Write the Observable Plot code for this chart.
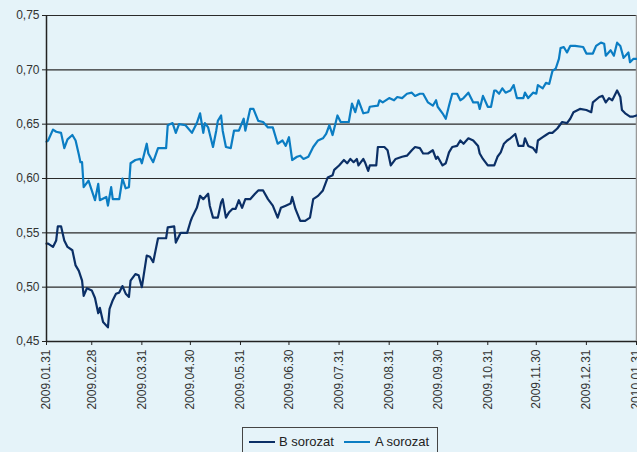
<!DOCTYPE html>
<html><head><meta charset="utf-8">
<script src="https://cdn.jsdelivr.net/npm/d3@7"></script>
<script src="https://cdn.jsdelivr.net/npm/@observablehq/plot@0.6"></script>
<style>
html,body{margin:0;padding:0;background:#e5f3f9;}
#wrap{position:relative;width:637px;height:452px;overflow:hidden;font-family:"Liberation Sans",Arial,sans-serif;background:#e5f3f9;}
#chart{position:absolute;left:0;top:0;}
#legend{position:absolute;left:242px;top:427px;width:196px;height:32px;border:1px solid #444;box-sizing:border-box;font-size:13px;color:#222;}
.sw{position:absolute;top:13px;height:2px;width:26px;}
.lt{position:absolute;top:6px;line-height:15px;}
</style>
</head><body>
<div id="wrap"><div id="chart"></div>
<div id="legend">
<div class="sw" style="left:6px;background:#0b2f66"></div><div class="lt" style="left:36px">B sorozat</div>
<div class="sw" style="left:101px;background:#0b7dc3"></div><div class="lt" style="left:132px">A sorozat</div>
</div></div>
<script>
const seriesNames = ["B sorozat", "A sorozat"];
const colorB = "#0b2f66";
const colorA = "#0b7dc3";

const aDates = ["2009-01-31","2009-02-01","2009-02-04","2009-02-06","2009-02-09","2009-02-11","2009-02-13","2009-02-16","2009-02-18","2009-02-20","2009-02-21","2009-02-22","2009-02-23","2009-02-26","2009-02-28","2009-03-02","2009-03-04","2009-03-05","2009-03-09","2009-03-10","2009-03-12","2009-03-13","2009-03-17","2009-03-19","2009-03-21","2009-03-23","2009-03-24","2009-03-27","2009-03-30","2009-03-31","2009-04-03","2009-04-04","2009-04-07","2009-04-10","2009-04-15","2009-04-16","2009-04-19","2009-04-21","2009-04-23","2009-04-27","2009-05-01","2009-05-04","2009-05-06","2009-05-08","2009-05-09","2009-05-11","2009-05-14","2009-05-16","2009-05-17","2009-05-19","2009-05-20","2009-05-22","2009-05-25","2009-05-27","2009-05-30","2009-06-02","2009-06-03","2009-06-06","2009-06-08","2009-06-11","2009-06-14","2009-06-17","2009-06-20","2009-06-23","2009-06-26","2009-06-28","2009-06-30","2009-07-02","2009-07-05","2009-07-07","2009-07-09","2009-07-12","2009-07-15","2009-07-18","2009-07-21","2009-07-23","2009-07-25","2009-07-27","2009-07-30","2009-08-01","2009-08-03","2009-08-06","2009-08-08","2009-08-10","2009-08-12","2009-08-15","2009-08-18","2009-08-19","2009-08-24","2009-08-25","2009-08-27","2009-08-31","2009-09-03","2009-09-05","2009-09-08","2009-09-11","2009-09-14","2009-09-16","2009-09-19","2009-09-21","2009-09-24","2009-09-27","2009-09-29","2009-09-30","2009-10-03","2009-10-05","2009-10-07","2009-10-09","2009-10-12","2009-10-14","2009-10-16","2009-10-19","2009-10-22","2009-10-25","2009-10-26","2009-10-28","2009-10-31","2009-11-02","2009-11-04","2009-11-05","2009-11-07","2009-11-09","2009-11-11","2009-11-14","2009-11-16","2009-11-18","2009-11-22","2009-11-23","2009-11-25","2009-11-28","2009-11-30","2009-12-01","2009-12-04","2009-12-06","2009-12-08","2009-12-09","2009-12-10","2009-12-12","2009-12-14","2009-12-15","2009-12-17","2009-12-19","2009-12-21","2009-12-24","2009-12-29","2009-12-31","2010-01-04","2010-01-06","2010-01-09","2010-01-11","2010-01-12","2010-01-15","2010-01-17","2010-01-19","2010-01-21","2010-01-23","2010-01-26","2010-01-27","2010-01-29","2010-01-31"];
const aValues = [0.634,0.635,0.645,0.643,0.642,0.628,0.636,0.640,0.635,0.622,0.615,0.615,0.592,0.598,0.589,0.580,0.595,0.580,0.583,0.575,0.592,0.581,0.581,0.600,0.591,0.592,0.614,0.617,0.618,0.614,0.632,0.623,0.615,0.628,0.628,0.649,0.651,0.642,0.650,0.649,0.642,0.651,0.660,0.642,0.651,0.647,0.629,0.644,0.653,0.658,0.644,0.629,0.628,0.644,0.644,0.655,0.644,0.664,0.664,0.653,0.652,0.647,0.647,0.632,0.635,0.630,0.638,0.617,0.620,0.621,0.618,0.620,0.629,0.635,0.637,0.641,0.649,0.640,0.658,0.652,0.652,0.652,0.669,0.661,0.672,0.660,0.661,0.666,0.667,0.672,0.670,0.674,0.672,0.675,0.674,0.678,0.679,0.676,0.678,0.678,0.670,0.667,0.672,0.666,0.660,0.655,0.667,0.678,0.678,0.672,0.674,0.679,0.670,0.670,0.664,0.676,0.666,0.666,0.681,0.681,0.678,0.683,0.679,0.681,0.686,0.674,0.674,0.679,0.674,0.679,0.678,0.686,0.683,0.688,0.687,0.693,0.699,0.701,0.710,0.720,0.721,0.716,0.722,0.722,0.721,0.715,0.715,0.722,0.725,0.724,0.713,0.718,0.713,0.725,0.722,0.711,0.716,0.707,0.710,0.710];

const bDates = ["2009-01-31","2009-02-01","2009-02-04","2009-02-06","2009-02-07","2009-02-09","2009-02-11","2009-02-13","2009-02-16","2009-02-18","2009-02-20","2009-02-22","2009-02-23","2009-02-25","2009-02-28","2009-03-02","2009-03-04","2009-03-05","2009-03-07","2009-03-10","2009-03-11","2009-03-13","2009-03-15","2009-03-17","2009-03-19","2009-03-21","2009-03-23","2009-03-24","2009-03-27","2009-03-29","2009-03-31","2009-04-03","2009-04-05","2009-04-07","2009-04-10","2009-04-15","2009-04-16","2009-04-20","2009-04-21","2009-04-24","2009-04-28","2009-04-30","2009-05-01","2009-05-04","2009-05-06","2009-05-08","2009-05-11","2009-05-12","2009-05-14","2009-05-17","2009-05-19","2009-05-20","2009-05-22","2009-05-24","2009-05-26","2009-05-28","2009-05-30","2009-06-01","2009-06-03","2009-06-06","2009-06-09","2009-06-11","2009-06-14","2009-06-17","2009-06-20","2009-06-23","2009-06-25","2009-06-28","2009-07-01","2009-07-02","2009-07-04","2009-07-07","2009-07-10","2009-07-13","2009-07-15","2009-07-18","2009-07-21","2009-07-24","2009-07-27","2009-07-28","2009-07-31","2009-08-03","2009-08-05","2009-08-07","2009-08-09","2009-08-11","2009-08-12","2009-08-15","2009-08-16","2009-08-18","2009-08-19","2009-08-23","2009-08-24","2009-08-28","2009-08-30","2009-09-01","2009-09-04","2009-09-08","2009-09-11","2009-09-14","2009-09-16","2009-09-19","2009-09-21","2009-09-24","2009-09-27","2009-09-29","2009-09-30","2009-10-03","2009-10-05","2009-10-07","2009-10-09","2009-10-12","2009-10-14","2009-10-16","2009-10-19","2009-10-22","2009-10-25","2009-10-26","2009-10-28","2009-10-31","2009-11-04","2009-11-06","2009-11-08","2009-11-10","2009-11-12","2009-11-14","2009-11-17","2009-11-19","2009-11-22","2009-11-23","2009-11-25","2009-11-28","2009-11-30","2009-12-01","2009-12-04","2009-12-06","2009-12-08","2009-12-10","2009-12-13","2009-12-16","2009-12-19","2009-12-21","2009-12-23","2009-12-27","2009-12-31","2010-01-03","2010-01-04","2010-01-08","2010-01-10","2010-01-12","2010-01-14","2010-01-16","2010-01-19","2010-01-21","2010-01-22","2010-01-24","2010-01-27","2010-01-29","2010-01-31"];
const bValues = [0.540,0.540,0.537,0.543,0.556,0.556,0.543,0.537,0.534,0.520,0.515,0.506,0.492,0.499,0.497,0.490,0.476,0.481,0.468,0.463,0.480,0.488,0.494,0.495,0.501,0.494,0.491,0.506,0.512,0.511,0.500,0.529,0.528,0.523,0.545,0.545,0.555,0.556,0.541,0.550,0.550,0.560,0.564,0.573,0.584,0.581,0.586,0.575,0.564,0.564,0.578,0.581,0.564,0.569,0.572,0.572,0.580,0.573,0.581,0.581,0.586,0.589,0.589,0.581,0.575,0.564,0.573,0.575,0.577,0.583,0.572,0.561,0.561,0.564,0.581,0.584,0.589,0.601,0.603,0.608,0.612,0.617,0.614,0.618,0.615,0.618,0.612,0.618,0.615,0.607,0.612,0.612,0.629,0.629,0.626,0.612,0.618,0.620,0.621,0.626,0.629,0.628,0.623,0.623,0.626,0.618,0.620,0.612,0.614,0.624,0.629,0.630,0.635,0.632,0.637,0.635,0.630,0.623,0.618,0.612,0.612,0.620,0.624,0.632,0.635,0.637,0.641,0.630,0.630,0.637,0.630,0.628,0.624,0.635,0.638,0.640,0.642,0.642,0.646,0.652,0.651,0.655,0.661,0.664,0.663,0.661,0.670,0.675,0.676,0.670,0.674,0.672,0.681,0.675,0.663,0.660,0.657,0.657,0.658];

const xTickDates = ["2009-01-31","2009-02-28","2009-03-31","2009-04-30","2009-05-31","2009-06-30","2009-07-31","2009-08-31","2009-09-30","2009-10-31","2009-11-30","2009-12-31","2010-01-31"];
const yTicks = [0.45, 0.50, 0.55, 0.60, 0.65, 0.70, 0.75];

const parse = d3.utcParse("%Y-%m-%d");
const aData = aDates.map((d, i) => ({date: parse(d), value: aValues[i], series: seriesNames[1]}));
const bData = bDates.map((d, i) => ({date: parse(d), value: bValues[i], series: seriesNames[0]}));
const xTicks = xTickDates.map(parse);
const xStart = xTicks[0], xEnd = xTicks[xTicks.length - 1];

const chart = Plot.plot({
  width: 637, height: 420,
  marginTop: 15, marginBottom: 79, marginLeft: 46, marginRight: 1,
  style: {background: "transparent", fontFamily: "'Liberation Sans', Arial, sans-serif", fontSize: "12px", color: "#333", overflow: "visible"},
  x: {type: "utc", domain: [xStart, xEnd], label: null},
  y: {domain: [0.45, 0.75], label: null},
  marks: [
    Plot.gridY(yTicks, {stroke: "#2a2a2a", strokeOpacity: 1, strokeWidth: 1.2}),
    Plot.ruleX([xEnd], {stroke: "#999", strokeWidth: 1.5}),
    Plot.line(bData, {x: "date", y: "value", stroke: colorB, strokeWidth: 2.2}),
    Plot.line(aData, {x: "date", y: "value", stroke: colorA, strokeWidth: 2.2}),
    Plot.ruleX([xStart], {stroke: "#222", strokeWidth: 1.5}),
    Plot.ruleY([0.45], {stroke: "#222", strokeWidth: 1.5}),
    Plot.axisY(yTicks, {tickFormat: d => d.toFixed(2).replace(".", ","), tickSize: 4, tickPadding: 3, fontSize: 12, stroke: "#222"}),
    Plot.axisX(xTicks, {tickFormat: d3.utcFormat("%Y.%m.%d"), tickRotate: -90, tickSize: 4, tickPadding: 4, fontSize: 12, stroke: "#222"})
  ]
});
document.getElementById("chart").appendChild(chart);
</script>
</body></html>
